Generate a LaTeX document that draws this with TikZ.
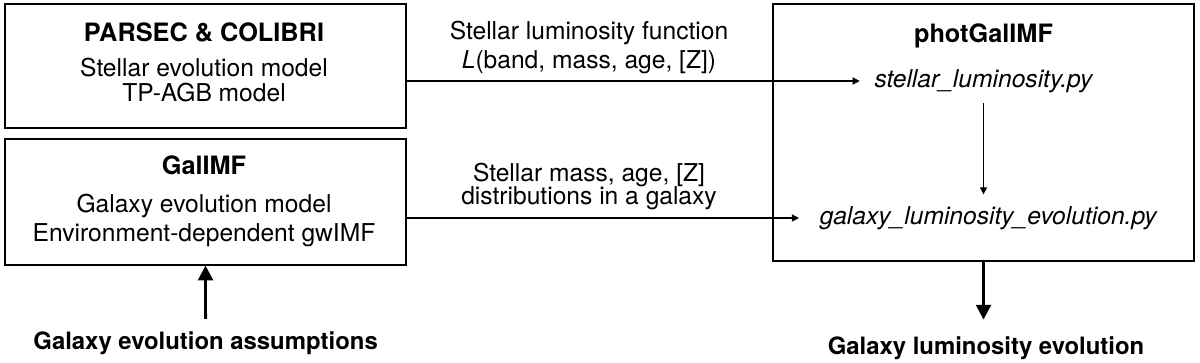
\documentclass[tikz,border=0pt]{standalone}
\usepackage{fontspec}
\setmainfont{TeX Gyre Heros}
\usetikzlibrary{arrows.meta, calc}

\begin{document}
\begin{tikzpicture}[scale=1,
    box/.style={draw, thick, minimum width=10.025cm, minimum height=3.1cm, inner sep=0pt},
    txt/.style={font=\fontsize{17.5}{20}\selectfont, anchor=base},
    head/.style={font=\fontsize{18}{20}\selectfont\bfseries, anchor=base},
    outlabel/.style={font=\fontsize{17}{20}\selectfont\bfseries, anchor=base},
    thinarrow/.style={-{Triangle[length=5pt, width=5pt]}, thick},
    bigarrow/.style={-{Triangle[length=10.5pt, width=10.5pt]}, line width=2pt}]

    \useasboundingbox (0,0) rectangle (30,9.075);

    % Model boxes (left) and photGalIMF box (right)
    \node[box] (parsec) at (5.1375,7.425) {};
    \node[box, minimum height=3.15cm] (galimf) at (5.1375,4.025) {};
    \node[box, minimum width=10.525cm, minimum height=6.425cm] (phot) at (24.5875,5.7625) {};

    % PARSEC & COLIBRI
    \node[head] (parsecname) at (5.1,8.025) {PARSEC \& COLIBRI};
    \node[txt] (stellarmodel) at (5.1,7.15) {Stellar evolution model};
    \node[txt] (agbmodel) at (5.1,6.525) {TP-AGB model};

    % GalIMF
    \node[head] (galimfname) at (5.1,4.7) {GalIMF};
    \node[txt] (galaxymodel) at (5.1,3.75) {Galaxy evolution model};
    \node[txt] (gwimf) at (5.1,3.025) {Environment-dependent gwIMF};

    % photGalIMF and its scripts
    \node[head] (photname) at (24.5875,8.0) {photGalIMF};
    \node[font=\fontsize{17.5}{20}\selectfont\itshape] (slum) at (24.5875,7.05) {stellar\_luminosity.py};
    \node[font=\fontsize{17.5}{20}\selectfont\itshape, anchor=west] (glum) at (20.375,3.625) {galaxy\_luminosity\_evolution.py};

    % labels on the connectors
    \node[txt] (lumlabel) at (14.725,8.075) {Stellar luminosity function};
    \node[txt] (lumfunc) at (14.725,7.35) {\textit{L}(band, mass, age, [Z])};
    \node[txt] (distlabel) at (14.725,4.525) {Stellar mass, age, [Z]};
    \node[txt] (distgal) at (14.725,3.95) {distributions in a galaxy};

    % inputs and output
    \node[outlabel] (assump) at (5.14,0.325) {Galaxy evolution assumptions};
    \node[outlabel] (lumevol) at (24.65,0.2) {Galaxy luminosity evolution};

    % Connectors
    \draw[thinarrow, shorten >=7pt] (parsec.east |- slum.west) -- (slum.west);
    \draw[thinarrow, shorten >=11.4pt] (galimf.east |- glum.west) -- (glum.west);
    \draw[thinarrow, shorten <=3.5pt, shorten >=5pt] (slum.south) -- (slum.south |- glum.north);
    \draw[bigarrow] ([yshift=6pt]assump.north) -- (galimf.south);
    \draw[bigarrow, shorten >=9pt] (phot.south) -- (phot.south |- lumevol.north);

\end{tikzpicture}
\end{document}
